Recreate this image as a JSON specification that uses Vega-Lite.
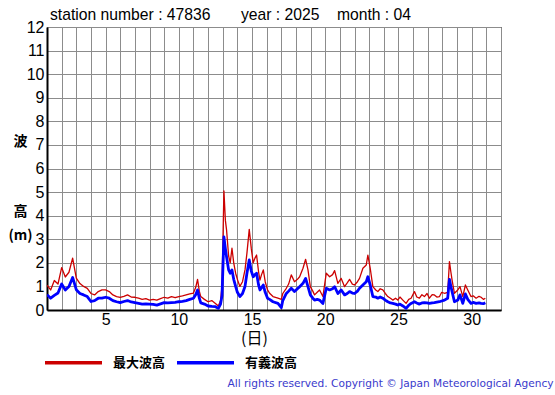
{
  "$schema": "https://vega.github.io/schema/vega-lite/v6.json",
  "padding": {"left": 7, "top": 6, "right": 0, "bottom": 4},
  "background": "white",
  "title": {
    "text": "All rights reserved. Copyright © Japan Meteorological Agency",
    "orient": "bottom",
    "anchor": "end",
    "font": "DejaVu Sans",
    "fontSize": 10.6,
    "fontWeight": "normal",
    "color": "#3a3acc",
    "offset": 9,
    "dx": 52
  },
  "config": {
    "view": {"stroke": "black", "strokeWidth": 1},
    "axis": {"labelFont": "Liberation Sans", "labelFontSize": 16, "labelColor": "black", "gridColor": "#8c8c8c", "gridWidth": 1, "gridOpacity": 1, "domainColor": "black", "domainWidth": 2, "ticks": false}
  },
  "datasets": {
    "waves": [
      {"day": 1.00, "最大波高": 1.05, "有義波高": 0.65},
      {"day": 1.25, "最大波高": 0.85, "有義波高": 0.50},
      {"day": 1.50, "最大波高": 1.25, "有義波高": 0.62},
      {"day": 1.75, "最大波高": 1.10, "有義波高": 0.72},
      {"day": 2.00, "最大波高": 1.80, "有義波高": 1.10},
      {"day": 2.25, "最大波高": 1.40, "有義波高": 0.85},
      {"day": 2.50, "最大波高": 1.60, "有義波高": 1.00},
      {"day": 2.75, "最大波高": 2.20, "有義波高": 1.38},
      {"day": 3.00, "最大波高": 1.35, "有義波高": 0.86},
      {"day": 3.25, "最大波高": 1.12, "有義波高": 0.70},
      {"day": 3.50, "最大波高": 1.00, "有義波高": 0.64},
      {"day": 3.75, "最大波高": 0.92, "有義波高": 0.57},
      {"day": 4.00, "最大波高": 0.70, "有義波高": 0.36},
      {"day": 4.25, "最大波高": 0.64, "有義波高": 0.40},
      {"day": 4.50, "最大波高": 0.78, "有義波高": 0.50},
      {"day": 4.75, "最大波高": 0.85, "有義波高": 0.50},
      {"day": 5.00, "最大波高": 0.85, "有義波高": 0.54},
      {"day": 5.25, "最大波高": 0.78, "有義波高": 0.50},
      {"day": 5.50, "最大波高": 0.64, "有義波高": 0.40},
      {"day": 5.75, "最大波高": 0.57, "有義波高": 0.35},
      {"day": 6.00, "最大波高": 0.54, "有義波高": 0.31},
      {"day": 6.25, "最大波高": 0.58, "有義波高": 0.36},
      {"day": 6.50, "最大波高": 0.64, "有義波高": 0.40},
      {"day": 6.75, "最大波高": 0.55, "有義波高": 0.34},
      {"day": 7.00, "最大波高": 0.54, "有義波高": 0.31},
      {"day": 7.25, "最大波高": 0.50, "有義波高": 0.28},
      {"day": 7.50, "最大波高": 0.45, "有義波高": 0.25},
      {"day": 7.75, "最大波高": 0.48, "有義波高": 0.26},
      {"day": 8.00, "最大波高": 0.42, "有義波高": 0.25},
      {"day": 8.25, "最大波高": 0.45, "有義波高": 0.24},
      {"day": 8.50, "最大波高": 0.42, "有義波高": 0.21},
      {"day": 8.75, "最大波高": 0.48, "有義波高": 0.26},
      {"day": 9.00, "最大波高": 0.54, "有義波高": 0.31},
      {"day": 9.25, "最大波高": 0.50, "有義波高": 0.30},
      {"day": 9.50, "最大波高": 0.57, "有義波高": 0.31},
      {"day": 9.75, "最大波高": 0.52, "有義波高": 0.32},
      {"day": 10.00, "最大波高": 0.57, "有義波高": 0.35},
      {"day": 10.25, "最大波高": 0.60, "有義波高": 0.37},
      {"day": 10.50, "最大波高": 0.64, "有義波高": 0.40},
      {"day": 10.75, "最大波高": 0.68, "有義波高": 0.45},
      {"day": 11.00, "最大波高": 0.72, "有義波高": 0.50},
      {"day": 11.15, "最大波高": 0.95, "有義波高": 0.65},
      {"day": 11.28, "最大波高": 1.30, "有義波高": 0.85},
      {"day": 11.40, "最大波高": 0.80, "有義波高": 0.50},
      {"day": 11.50, "最大波高": 0.57, "有義波高": 0.30},
      {"day": 11.75, "最大波高": 0.45, "有義波高": 0.25},
      {"day": 12.00, "最大波高": 0.35, "有義波高": 0.17},
      {"day": 12.25, "最大波高": 0.40, "有義波高": 0.15},
      {"day": 12.50, "最大波高": 0.28, "有義波高": 0.14},
      {"day": 12.70, "最大波高": 0.17, "有義波高": 0.07},
      {"day": 12.85, "最大波高": 0.40, "有義波高": 0.25},
      {"day": 12.95, "最大波高": 1.00, "有義波高": 0.60},
      {"day": 13.08, "最大波高": 5.05, "有義波高": 3.10},
      {"day": 13.18, "最大波高": 3.80, "有義波高": 2.60},
      {"day": 13.26, "最大波高": 3.40, "有義波高": 2.26},
      {"day": 13.40, "最大波高": 2.30, "有義波高": 1.70},
      {"day": 13.51, "最大波高": 2.00, "有義波高": 1.56},
      {"day": 13.63, "最大波高": 2.62, "有義波高": 1.70},
      {"day": 13.75, "最大波高": 2.00, "有義波高": 1.30},
      {"day": 13.88, "最大波高": 1.56, "有義波高": 1.00},
      {"day": 14.00, "最大波高": 1.30, "有義波高": 0.75},
      {"day": 14.17, "最大波高": 1.00, "有義波高": 0.57},
      {"day": 14.35, "最大波高": 1.20, "有義波高": 0.70},
      {"day": 14.52, "最大波高": 1.70, "有義波高": 1.00},
      {"day": 14.65, "最大波高": 2.40, "有義波高": 1.55},
      {"day": 14.81, "最大波高": 3.42, "有義波高": 2.12},
      {"day": 14.95, "最大波高": 2.60, "有義波高": 1.65},
      {"day": 15.08, "最大波高": 2.00, "有義波高": 1.41},
      {"day": 15.20, "最大波高": 2.20, "有義波高": 1.50},
      {"day": 15.31, "最大波高": 2.33, "有義波高": 1.56},
      {"day": 15.45, "最大波高": 1.60, "有義波高": 1.05},
      {"day": 15.54, "最大波高": 1.27, "有義波高": 0.85},
      {"day": 15.65, "最大波高": 1.50, "有義波高": 0.95},
      {"day": 15.77, "最大波高": 1.70, "有義波高": 1.06},
      {"day": 15.90, "最大波高": 1.20, "有義波高": 0.75},
      {"day": 16.06, "最大波高": 0.85, "有義波高": 0.50},
      {"day": 16.20, "最大波高": 0.71, "有義波高": 0.45},
      {"day": 16.43, "最大波高": 0.57, "有義波高": 0.35},
      {"day": 16.77, "最大波高": 0.50, "有義波高": 0.28},
      {"day": 17.00, "最大波高": 0.45, "有義波高": 0.10},
      {"day": 17.10, "最大波高": 0.70, "有義波高": 0.40},
      {"day": 17.34, "最大波高": 0.92, "有義波高": 0.70},
      {"day": 17.50, "最大波高": 1.10, "有義波高": 0.80},
      {"day": 17.68, "最大波高": 1.49, "有義波高": 0.92},
      {"day": 17.90, "最大波高": 1.20, "有義波高": 0.78},
      {"day": 18.10, "最大波高": 1.30, "有義波高": 0.90},
      {"day": 18.25, "最大波高": 1.41, "有義波高": 0.99},
      {"day": 18.48, "最大波高": 1.77, "有義波高": 1.13},
      {"day": 18.66, "最大波高": 2.15, "有義波高": 1.34},
      {"day": 18.82, "最大波高": 1.70, "有義波高": 0.99},
      {"day": 18.98, "最大波高": 0.99, "有義波高": 0.64},
      {"day": 19.15, "最大波高": 0.80, "有義波高": 0.50},
      {"day": 19.27, "最大波高": 0.64, "有義波高": 0.42},
      {"day": 19.45, "最大波高": 0.75, "有義波高": 0.45},
      {"day": 19.61, "最大波高": 0.85, "有義波高": 0.42},
      {"day": 19.84, "最大波高": 0.57, "有義波高": 0.28},
      {"day": 20.07, "最大波高": 1.56, "有義波高": 0.92},
      {"day": 20.30, "最大波高": 1.41, "有義波高": 0.85},
      {"day": 20.50, "最大波高": 1.50, "有義波高": 0.90},
      {"day": 20.64, "最大波高": 1.67, "有義波高": 0.99},
      {"day": 20.86, "最大波高": 1.13, "有義波高": 0.70},
      {"day": 21.09, "最大波高": 1.34, "有義波高": 0.85},
      {"day": 21.32, "最大波高": 0.99, "有義波高": 0.64},
      {"day": 21.50, "最大波高": 1.15, "有義波高": 0.70},
      {"day": 21.66, "最大波高": 1.30, "有義波高": 0.78},
      {"day": 21.85, "最大波高": 1.10, "有義波高": 0.72},
      {"day": 22.00, "最大波高": 1.06, "有義波高": 0.70},
      {"day": 22.20, "最大波高": 1.20, "有義波高": 0.80},
      {"day": 22.34, "最大波高": 1.34, "有義波高": 0.92},
      {"day": 22.57, "最大波高": 1.77, "有義波高": 1.06},
      {"day": 22.80, "最大波高": 1.91, "有義波高": 1.20},
      {"day": 22.91, "最大波高": 2.33, "有義波高": 1.41},
      {"day": 23.07, "最大波高": 1.77, "有義波高": 1.06},
      {"day": 23.25, "最大波高": 0.99, "有義波高": 0.57},
      {"day": 23.45, "最大波高": 0.85, "有義波高": 0.55},
      {"day": 23.59, "最大波高": 0.78, "有義波高": 0.50},
      {"day": 23.75, "最大波高": 0.90, "有義波高": 0.55},
      {"day": 23.93, "最大波高": 0.85, "有義波高": 0.50},
      {"day": 24.10, "最大波高": 0.70, "有義波高": 0.42},
      {"day": 24.27, "最大波高": 0.57, "有義波高": 0.35},
      {"day": 24.45, "最大波高": 0.50, "有義波高": 0.30},
      {"day": 24.61, "最大波高": 0.42, "有義波高": 0.28},
      {"day": 24.80, "最大波高": 0.50, "有義波高": 0.25},
      {"day": 24.95, "最大波高": 0.42, "有義波高": 0.21},
      {"day": 25.10, "最大波高": 0.55, "有義波高": 0.25},
      {"day": 25.30, "最大波高": 0.42, "有義波高": 0.17},
      {"day": 25.52, "最大波高": 0.28, "有義波高": 0.07},
      {"day": 25.70, "最大波高": 0.45, "有義波高": 0.20},
      {"day": 25.86, "最大波高": 0.50, "有義波高": 0.28},
      {"day": 26.09, "最大波高": 0.78, "有義波高": 0.35},
      {"day": 26.25, "最大波高": 0.55, "有義波高": 0.30},
      {"day": 26.43, "最大波高": 0.50, "有義波高": 0.25},
      {"day": 26.60, "最大波高": 0.65, "有義波高": 0.30},
      {"day": 26.77, "最大波高": 0.57, "有義波高": 0.31},
      {"day": 26.95, "最大波高": 0.70, "有義波高": 0.30},
      {"day": 27.11, "最大波高": 0.50, "有義波高": 0.28},
      {"day": 27.30, "最大波高": 0.65, "有義波高": 0.30},
      {"day": 27.45, "最大波高": 0.64, "有義波高": 0.31},
      {"day": 27.62, "最大波高": 0.55, "有義波高": 0.33},
      {"day": 27.80, "最大波高": 0.57, "有義波高": 0.35},
      {"day": 27.95, "最大波高": 0.75, "有義波高": 0.38},
      {"day": 28.14, "最大波高": 0.71, "有義波高": 0.42},
      {"day": 28.36, "最大波高": 0.75, "有義波高": 0.50},
      {"day": 28.48, "最大波高": 2.05, "有義波高": 1.30},
      {"day": 28.58, "最大波高": 1.60, "有義波高": 1.00},
      {"day": 28.66, "最大波高": 1.27, "有義波高": 0.78},
      {"day": 28.82, "最大波高": 0.71, "有義波高": 0.35},
      {"day": 29.05, "最大波高": 0.85, "有義波高": 0.42},
      {"day": 29.20, "最大波高": 0.99, "有義波高": 0.64},
      {"day": 29.39, "最大波高": 0.57, "有義波高": 0.28},
      {"day": 29.57, "最大波高": 1.06, "有義波高": 0.68},
      {"day": 29.73, "最大波高": 0.85, "有義波高": 0.45},
      {"day": 29.95, "最大波高": 0.57, "有義波高": 0.28},
      {"day": 30.10, "最大波高": 0.60, "有義波高": 0.32},
      {"day": 30.30, "最大波高": 0.50, "有義波高": 0.28},
      {"day": 30.50, "最大波高": 0.58, "有義波高": 0.30},
      {"day": 30.64, "最大波高": 0.54, "有義波高": 0.28},
      {"day": 30.80, "最大波高": 0.45, "有義波高": 0.27},
      {"day": 30.93, "最大波高": 0.50, "有義波高": 0.31}
    ]
  },
  "vconcat": [
    {
      "width": 454,
      "height": 283,
      "title": {
        "text": "station number : 47836\u00a0\u00a0\u00a0\u00a0\u00a0\u00a0\u00a0year : 2025\u00a0\u00a0\u00a0\u00a0month : 04",
        "anchor": "start",
        "frame": "group",
        "font": "Liberation Sans",
        "fontSize": 15.7,
        "fontWeight": "normal",
        "color": "black",
        "baseline": "alphabetic",
        "offset": -17,
        "dx": 3
      },
      "data": {"name": "waves"},
      "transform": [{"fold": ["最大波高", "有義波高"], "as": ["series", "height"]}],
      "encoding": {
        "x": {
          "field": "day", "type": "quantitative",
          "scale": {"domain": [1, 32], "nice": false, "zero": false},
          "axis": {
            "values": [1,2,3,4,5,6,7,8,9,10,11,12,13,14,15,16,17,18,19,20,21,22,23,24,25,26,27,28,29,30,31,32],
            "labelExpr": "datum.value % 5 === 0 ? datum.label : ''",
            "labelPadding": 1,
            "labelFlush": false,
            "labelOverlap": false,
            "title": "(日)",
            "titleFont": "Noto Sans CJK JP",
            "titleFontSize": 16,
            "titleFontWeight": "normal",
            "titleX": 207,
            "titleY": 28,
            "titleBaseline": "middle",
            "titleAnchor": null
          }
        },
        "y": {
          "field": "height", "type": "quantitative",
          "scale": {"domain": [0, 12], "nice": false},
          "axis": {
            "values": [0,1,2,3,4,5,6,7,8,9,10,11,12],
            "labelPadding": 3,
            "labelFlush": false,
            "labelOverlap": false,
            "title": ["波", "\u200b", "\u200b", "高", "(m)"],
            "titleAngle": 0,
            "titleFont": "Noto Sans CJK JP",
            "titleFontSize": 14,
            "titleFontWeight": "bold",
            "titleLineHeight": 23.5,
            "titleAlign": "center",
            "titleBaseline": "middle",
            "titleX": -27,
            "titleY": 114
          }
        },
        "color": {
          "field": "series", "type": "nominal",
          "scale": {"domain": ["最大波高", "有義波高"], "range": ["#cc0000", "#0000ff"]},
          "legend": {
            "title": null,
            "orient": "none",
            "legendX": -4,
            "legendY": 305,
            "direction": "horizontal",
            "symbolType": "stroke",
            "symbolSize": 3249,
            "symbolStrokeWidth": 3.5,
            "labelFont": "Noto Sans CJK JP",
            "labelFontSize": 13,
            "labelFontWeight": "bold",
            "labelColor": "black",
            "labelOffset": 9,
            "columnPadding": 4
          }
        }
      },
      "layer": [
        {
          "transform": [{"filter": "datum.series === '最大波高'"}],
          "mark": {"type": "line", "clip": true, "strokeJoin": "round", "strokeWidth": 1.3}
        },
        {
          "transform": [{"filter": "datum.series === '有義波高'"}],
          "mark": {"type": "line", "clip": true, "strokeJoin": "round", "strokeWidth": 2.8}
        }
      ]
    }
  ]
}
